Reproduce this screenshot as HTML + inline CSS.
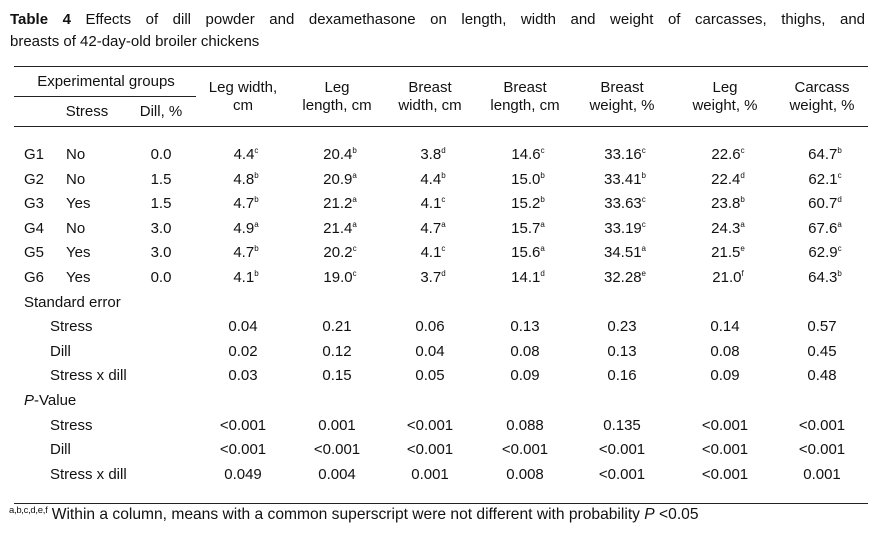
<!DOCTYPE html>
<html><head><meta charset="utf-8"><style>
body{margin:0;background:#fff;}
#t{position:relative;width:885px;height:534px;font-family:"Liberation Sans",Arial,sans-serif;color:#111;font-size:15px;overflow:hidden}
.a{position:absolute;line-height:18px;white-space:nowrap}
.c{transform:translateX(-50%);text-align:center}
.h{position:absolute;height:1px;background:#222}
sup{font-size:8px;vertical-align:6px;line-height:0}
</style></head><body>
<div id="t">
<div class="a" style="left:10px;top:11px;width:855px;text-align:justify;text-align-last:justify"><b>Table 4</b> Effects of dill powder and dexamethasone on length, width and weight of carcasses, thighs, and</div>
<div class="a" style="left:10px;top:33px">breasts of 42-day-old broiler chickens</div>
<div class="h" style="left:14px;width:854px;top:66px"></div>
<div class="h" style="left:14px;width:182px;top:96px"></div>
<div class="h" style="left:14px;width:854px;top:126px"></div>
<div class="h" style="left:14px;width:854px;top:503px"></div>
<div class="a c" style="left:106px;top:73px">Experimental groups</div>
<div class="a c" style="left:87px;top:103px">Stress</div>
<div class="a c" style="left:161px;top:103px">Dill, %</div>
<div class="a" style="left:9px;top:506px;font-size:15.6px"><sup style="font-size:9.5px;letter-spacing:-0.3px">a,b,c,d,e,f</sup> Within a column, means with a common superscript were not different with probability <i>P</i> &lt;0.05</div>
</div>
<script>
const colX=[243,337,430,525,622,725,822];
const headers=[["Leg width,","cm"],["Leg","length, cm"],["Breast","width, cm"],["Breast","length, cm"],["Breast","weight, %"],["Leg","weight, %"],["Carcass","weight, %"]];
const groups=["G1","G2","G3","G4","G5","G6"];
const stress=["No","No","Yes","No","Yes","Yes"];
const dill=["0.0","1.5","1.5","3.0","3.0","0.0"];
const means=[
["4.4","20.4","3.8","14.6","33.16","22.6","64.7"],
["4.8","20.9","4.4","15.0","33.41","22.4","62.1"],
["4.7","21.2","4.1","15.2","33.63","23.8","60.7"],
["4.9","21.4","4.7","15.7","33.19","24.3","67.6"],
["4.7","20.2","4.1","15.6","34.51","21.5","62.9"],
["4.1","19.0","3.7","14.1","32.28","21.0","64.3"]];
const supers=[
["c","b","d","c","c","c","b"],
["b","a","b","b","b","d","c"],
["b","a","c","b","c","b","d"],
["a","a","a","a","c","a","a"],
["b","c","c","a","a","e","c"],
["b","c","d","d","e","f","b"]];
const seLabels=["Stress","Dill","Stress x dill"];
const seVals=[["0.04","0.21","0.06","0.13","0.23","0.14","0.57"],["0.02","0.12","0.04","0.08","0.13","0.08","0.45"],["0.03","0.15","0.05","0.09","0.16","0.09","0.48"]];
const pVals=[["<0.001","0.001","<0.001","0.088","0.135","<0.001","<0.001"],["<0.001","<0.001","<0.001","<0.001","<0.001","<0.001","<0.001"],["0.049","0.004","0.001","0.008","<0.001","<0.001","0.001"]];
const T=document.getElementById('t');
const rowY=i=>155+i*24.6;
function put(txt,x,y,center,name,html){
 const d=document.createElement('div');
 d.className='a'+(center?' c':'');
 d.style.left=x+'px';d.style.top=(y-9)+'px';
 if(html)d.innerHTML=txt;else d.textContent=txt;
 
 
 T.appendChild(d);
}
headers.forEach((h,j)=>{put(h[0],colX[j],88,true,'column-header');put(h[1],colX[j],106,true,'column-header');});
groups.forEach((g,i)=>{
 const y=rowY(i);
 put(g,24,y,false,'group-label');
 put(stress[i],66,y,false,'stress-value');
 put(dill[i],161,y,true,'dill-value');
 means[i].forEach((v,j)=>put(v+'<sup>'+supers[i][j]+'</sup>',colX[j]+3,y,true,'mean-cell',true));
});
put('Standard error',24,rowY(6),false,'section-label');
seLabels.forEach((l,k)=>{const y=rowY(7+k);put(l,50,y,false,'se-row-label');seVals[k].forEach((v,j)=>put(v,colX[j],y,true,'se-cell'));});
put('<i>P</i>-Value',24,rowY(10),false,'section-label',true);
seLabels.forEach((l,k)=>{const y=rowY(11+k);put(l,50,y,false,'p-row-label');pVals[k].forEach((v,j)=>put(v,colX[j],y,true,'p-cell'));});
</script>
</body></html>
